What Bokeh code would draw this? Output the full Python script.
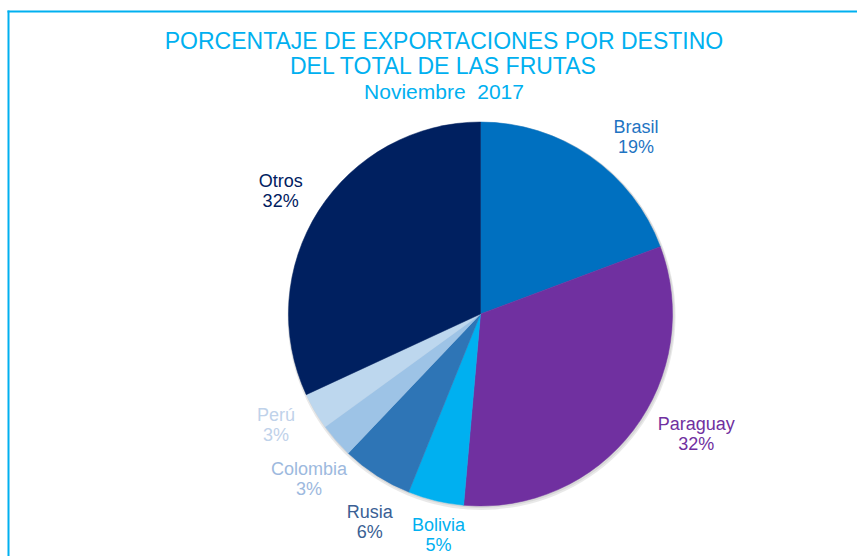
import math
from bokeh.plotting import figure
from bokeh.models import Range1d, ColumnDataSource
from bokeh.core.properties import value
from bokeh.embed import file_html
from bokeh.resources import INLINE

# ---- data ----
destinos = ["Brasil", "Paraguay", "Bolivia", "Rusia", "Colombia", "Perú", "Otros"]
porcentajes = [19.3, 32.1, 4.7, 6.0, 2.9, 3.1, 31.9]
titulo = ["PORCENTAJE DE EXPORTACIONES POR DESTINO", "DEL TOTAL DE LAS FRUTAS", "Noviembre\u00a0 2017"]

# ---- styles ----
colores = ["#0070C0", "#7030A0", "#00B0F0", "#2E75B6", "#9DC3E6", "#BDD7EE", "#002060"]
colores_texto = ["#1F74C2", "#7030A0", "#00B0F0", "#3A5F94", "#9DB9DE", "#BFD2EA", "#002060"]
# small nudges (px) of each label from its mid-angle anchor
nudge_x = [21, 28, 13, 17, 6, -1, -1]
nudge_y = [18, -22, -7, 11, 10, -7, 5]
FONT = "Liberation Sans"
CYAN = "#00B0F0"

W, H = 857, 556
def sx(x):
    return x
def sy(y):
    return H - y

p = figure(width=W, height=H, x_range=Range1d(0, W), y_range=Range1d(0, H),
           output_backend="svg", toolbar_location=None,
           x_axis_type=None, y_axis_type=None, min_border=0)
p.outline_line_color = None
p.background_fill_color = "white"
p.border_fill_color = "white"

# frame (top and left edges)
p.segment(x0=[sx(8), sx(7)], y0=[sy(10), sy(11)], x1=[sx(8), W], y1=[0, sy(11)],
          line_color=CYAN, line_width=2)

# pie
cx, cy, r = sx(480), sy(313.5), 192
total = sum(porcentajes)
starts, ends, mids = [], [], []
c = 0.0
for v in porcentajes:
    f0 = c / total
    c += v
    f1 = c / total
    starts.append(math.pi / 2 - 2 * math.pi * f0)
    ends.append(math.pi / 2 - 2 * math.pi * f1)
    mids.append((f0 + f1) / 2)

# soft shadow
p.circle(x=[cx + 1], y=[cy - 2], radius=r + 2, fill_color="#cfcfcf",
         fill_alpha=0.45, line_color=None)
p.circle(x=[cx + 1], y=[cy - 1], radius=r + 1, fill_color="#bdbdbd",
         fill_alpha=0.4, line_color=None)

src = ColumnDataSource(dict(start=starts, end=ends, color=colores))
p.wedge(x=cx, y=cy, radius=r, start_angle="start", end_angle="end",
        direction="clock", fill_color="color", line_color="color",
        line_width=0.5, source=src)

# labels
R = 236
lx, ly_name, ly_pct, pct_txt = [], [], [], []
for i, v in enumerate(porcentajes):
    a = 2 * math.pi * mids[i]
    ax = 480 + R * math.sin(a) + nudge_x[i]
    ay = 313.5 - R * math.cos(a) + nudge_y[i]
    lx.append(sx(ax))
    ly_name.append(sy(ay - 11))
    ly_pct.append(sy(ay + 9))
    pct_txt.append(f"{round(v / total * 100)}%")

lsrc = ColumnDataSource(dict(x=lx, yn=ly_name, yp=ly_pct, name=destinos,
                             pct=pct_txt, color=colores_texto))
p.text(x="x", y="yn", text="name", source=lsrc, text_color="color",
       text_font=value(FONT), text_font_size="18px", text_align="center",
       text_baseline="middle")
p.text(x="x", y="yp", text="pct", source=lsrc, text_color="color",
       text_font=value(FONT), text_font_size="18px", text_align="center",
       text_baseline="middle")

# title
tx = sx(443.5)
p.text(x=[tx, tx], y=[sy(40), sy(65.3)], text=titulo[:2], text_color=CYAN,
       text_font=value(FONT), text_font_size="23px", text_align="center",
       text_baseline="middle")
p.text(x=[tx], y=[sy(91)], text=titulo[2:], text_color=CYAN,
       text_font=value(FONT), text_font_size="21px", text_align="center",
       text_baseline="middle")

open("out.html", "w").write(file_html(p, INLINE))
